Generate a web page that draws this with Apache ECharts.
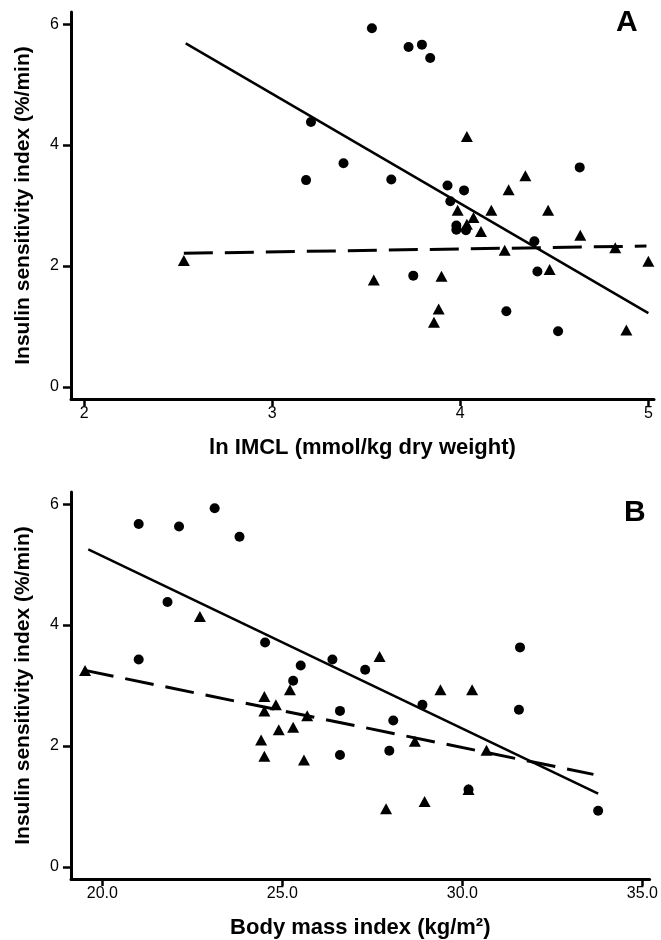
<!DOCTYPE html>
<html>
<head>
<meta charset="utf-8">
<script src="https://cdn.jsdelivr.net/npm/echarts@6/dist/echarts.min.js"></script>
<style>
  html, body { margin: 0; padding: 0; background: #fff; }
  #chart { width: 661px; height: 940px; }
</style>
</head>
<body>
<div id="chart"></div>
<script>
// panel A: ln IMCL vs insulin sensitivity
var aCircles = [
  [3.53, 5.93], [3.725, 5.62], [3.796, 5.66], [3.84, 5.44], [3.206, 4.38],
  [3.379, 3.70], [3.18, 3.42], [3.633, 3.43], [3.932, 3.33], [4.02, 3.25],
  [3.947, 3.07], [3.979, 2.67], [3.979, 2.60], [4.03, 2.59], [4.394, 2.41],
  [4.41, 1.91], [3.75, 1.84], [4.245, 1.25], [4.52, 0.92], [4.635, 3.63]
];
var aTriangles = [
  [2.53, 2.09], [3.54, 1.77], [3.90, 1.83], [3.885, 1.29], [3.86, 1.07],
  [3.986, 2.92], [4.035, 2.69], [4.07, 2.80], [4.11, 2.57], [4.165, 2.92],
  [4.236, 2.26], [4.257, 3.26], [4.346, 3.49], [4.035, 4.14], [4.467, 2.92],
  [4.475, 1.94], [4.638, 2.51], [4.824, 2.30], [5.0, 2.08], [4.883, 0.94]
];
var aSolidFit = [[2.54, 5.68], [5.0, 1.22]];
var aDashedFit = [[2.53, 2.21], [4.99, 2.33]];
var aTicks = [2, 3, 4, 5];

// panel B: BMI vs insulin sensitivity
var bCircles = [
  [21.01, 5.67], [22.13, 5.63], [23.12, 5.93], [23.81, 5.46], [21.81, 4.38],
  [21.01, 3.43], [24.52, 3.71], [25.51, 3.33], [25.30, 3.08], [26.39, 3.43],
  [27.30, 3.26], [31.60, 3.63], [26.60, 2.58], [26.60, 1.85], [28.89, 2.68],
  [28.08, 2.42], [27.97, 1.92], [31.57, 2.60], [33.77, 0.93], [30.17, 1.28]
];
var bTriangles = [
  [19.52, 3.25], [22.71, 4.14], [27.70, 3.48], [24.50, 2.82], [25.21, 2.93],
  [24.82, 2.68], [24.50, 2.58], [25.69, 2.50], [24.90, 2.27], [25.30, 2.31],
  [24.41, 2.10], [24.50, 1.83], [25.60, 1.77], [29.39, 2.93], [30.27, 2.93],
  [28.68, 2.08], [30.67, 1.93], [30.17, 1.28], [28.95, 1.08], [27.88, 0.96]
];
var bSolidFit = [[19.61, 5.25], [33.77, 1.21]];
var bDashedFit = [[19.52, 3.25], [33.64, 1.53]];
var bTicks = [20, 25, 30, 35];

var yTicks = [0, 2, 4, 6];

var FONT = 'Liberation Sans';

function xAxisOf(idx, min, max, ticks, name, fmt) {
  return {
    type: 'value', gridIndex: idx, min: min, max: max,
    name: name, nameLocation: 'middle', nameGap: 38,
    nameTextStyle: { fontFamily: FONT, fontSize: 22, fontWeight: 'bold', color: '#000' },
    axisLine: { onZero: false, lineStyle: { color: '#000', width: 3 } },
    axisTick: { customValues: ticks, length: 7, lineStyle: { color: '#000', width: 2.5 } },
    axisLabel: { customValues: ticks, margin: 7, fontFamily: FONT, fontSize: 16, color: '#000', formatter: fmt },
    splitLine: { show: false }
  };
}
function yAxisOf(idx) {
  return {
    type: 'value', gridIndex: idx, min: -0.2, max: 6.2,
    name: 'Insulin sensitivity index (%/min)', nameLocation: 'middle', nameGap: 37,
    nameTextStyle: { fontFamily: FONT, fontSize: 21, fontWeight: 'bold', color: '#000' },
    axisLine: { onZero: false, lineStyle: { color: '#000', width: 3 } },
    axisTick: { customValues: yTicks, length: 8, lineStyle: { color: '#000', width: 2.5 } },
    axisLabel: { customValues: yTicks, margin: 12, fontFamily: FONT, fontSize: 16, color: '#000' },
    splitLine: { show: false }
  };
}
function dots(idx, data) {
  return { type: 'scatter', xAxisIndex: idx, yAxisIndex: idx, data: data,
    symbol: 'circle', symbolSize: 10, itemStyle: { color: '#000', opacity: 1 }, z: 3 };
}
function tris(idx, data) {
  return { type: 'scatter', xAxisIndex: idx, yAxisIndex: idx, data: data,
    symbol: 'triangle', symbolSize: [12, 11], itemStyle: { color: '#000', opacity: 1 }, z: 3 };
}
function fit(idx, data, dashed) {
  return { type: 'line', xAxisIndex: idx, yAxisIndex: idx, data: data,
    symbol: 'none', silent: true, z: 2,
    lineStyle: { color: '#000', width: dashed ? 3 : 2.5, type: dashed ? [29, 12] : 'solid' } };
}

var chart = echarts.init(document.getElementById('chart'), null, { renderer: 'canvas' });
chart.setOption({
  animation: false,
  backgroundColor: '#fff',
  grid: [
    { left: 71, right: 7, top: 12, height: 387 },
    { left: 71, right: 6, top: 492, height: 387 }
  ],
  xAxis: [
    xAxisOf(0, 1.93, 5.03, aTicks, 'ln IMCL (mmol/kg dry weight)', function (v) { return String(v); }),
    xAxisOf(1, 19.13, 35.2, bTicks, 'Body mass index (kg/m²)', function (v) { return v.toFixed(1); })
  ],
  yAxis: [yAxisOf(0), yAxisOf(1)],
  graphic: [
    { type: 'text', left: 616, top: 8, style: { text: 'A', fontFamily: FONT, fontSize: 30, fontWeight: 'bold', fill: '#000' } },
    { type: 'text', left: 624, top: 498, style: { text: 'B', fontFamily: FONT, fontSize: 30, fontWeight: 'bold', fill: '#000' } }
  ],
  series: [
    fit(0, aSolidFit, false), fit(0, aDashedFit, true),
    dots(0, aCircles), tris(0, aTriangles),
    fit(1, bSolidFit, false), fit(1, bDashedFit, true),
    dots(1, bCircles), tris(1, bTriangles)
  ]
});
</script>
</body>
</html>
